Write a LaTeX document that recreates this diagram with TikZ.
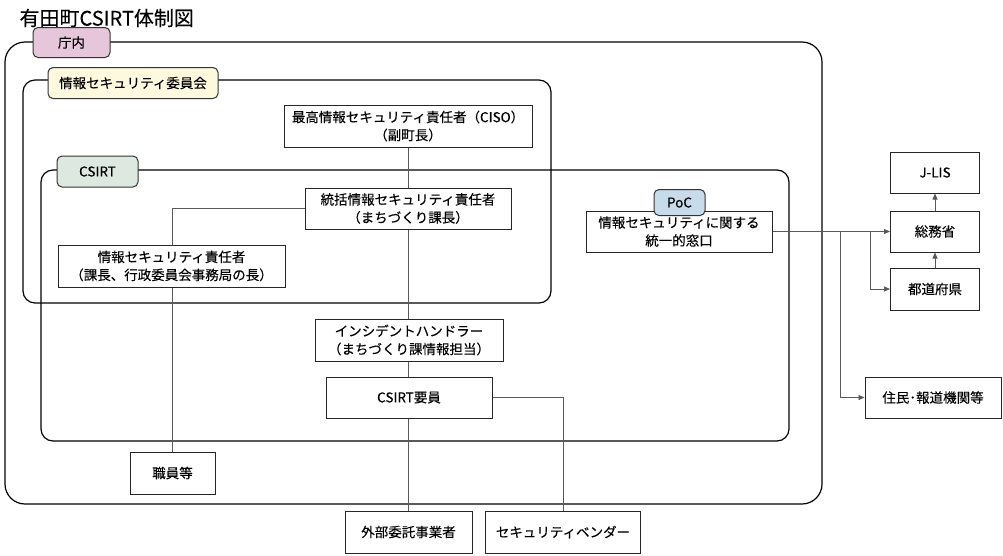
\documentclass[tikz,border=0pt]{standalone}
\usepackage{fontspec}
\setmainfont{Noto Sans CJK JP}[FakeBold=0.15]
\usetikzlibrary{arrows.meta,backgrounds}
\definecolor{tagpink}{HTML}{E6C6DB}
\definecolor{tagcream}{HTML}{FCF9DE}
\definecolor{taggreen}{HTML}{DCE8E0}
\definecolor{tagblue}{HTML}{C8DBEA}
\begin{document}
\begin{tikzpicture}[x=1pt,y=-1pt,
  box/.style={draw=black!85,line width=1pt,fill=white,inner sep=0pt,align=center,
    font=\fontsize{13.5}{18}\selectfont},
  tagbox/.style={draw=black!80,line width=1pt,rounded corners=5pt,inner sep=0pt,align=center,
    font=\fontsize{13.5}{16}\selectfont},
  frame/.style={draw=black,line width=1.2pt},
  conn/.style={draw=black!65,line width=0.8pt},
  arr/.style={conn,-{Triangle[length=6pt,width=5pt]}}]
\useasboundingbox (0,0) rectangle (1003,555);
\node[anchor=west,font=\fontsize{20}{24}\selectfont] (title) at (16,18) {有田町CSIRT体制図};
% boxes
\node[box,minimum width=248pt,minimum height=42pt] (ciso) at (408,126) {最高情報セキュリティ責任者（CISO）\\（副町長）};
\node[box,minimum width=206pt,minimum height=41pt] (tokatsu) at (408,208.5) {統括情報セキュリティ責任者\\（まちづくり課長）};
\node[box,minimum width=227pt,minimum height=42pt] (sekinin) at (171.5,266) {情報セキュリティ責任者\\（課長、行政委員会事務局の長）};
\node[box,minimum width=188pt,minimum height=42pt] (ih) at (409,340) {インシデントハンドラー\\（まちづくり課情報担当）};
\node[box,minimum width=166pt,minimum height=41pt] (csirtm) at (409,397.5) {CSIRT要員};
\node[box,minimum width=85pt,minimum height=42pt] (shokuin) at (172.5,473) {職員等};
\node[box,minimum width=127pt,minimum height=42pt] (gaibu) at (408.5,532) {外部委託事業者};
\node[box,minimum width=155pt,minimum height=42pt] (vendor) at (563,532) {セキュリティベンダー};
\node[box,minimum width=186pt,minimum height=41pt] (poc) at (679,231.5) {情報セキュリティに関する\\統一的窓口};
\node[box,minimum width=89pt,minimum height=41pt] (soumu) at (935,231.5) {総務省};
\node[box,minimum width=89pt,minimum height=42pt] (todo) at (935,289) {都道府県};
\node[box,minimum width=89pt,minimum height=41pt] (jlis) at (935,172.5) {J-LIS};
\node[box,minimum width=136pt,minimum height=41pt] (jumin) at (933,397.5) {住民･報道機関等};
% tags
\node[tagbox,fill=tagpink,minimum width=77pt,minimum height=30pt] (tagcho) at (71.5,42.5) {庁内};
\node[tagbox,fill=tagcream,minimum width=170pt,minimum height=31pt] (tagiin) at (133,83) {情報セキュリティ委員会};
\node[tagbox,fill=taggreen,minimum width=81pt,minimum height=31pt] (tagcsirt) at (97.5,171.5) {CSIRT};
\node[tagbox,fill=tagblue,minimum width=51pt,minimum height=26pt] (tagpoc) at (679.5,202.5) {PoC};
\begin{scope}[on background layer]
  \draw[frame,rounded corners=20pt] (5,42) rectangle (822,504);
  \draw[frame,rounded corners=12pt] (23,80) rectangle (551,303);
  \draw[frame,rounded corners=12pt] (41,170) rectangle (789,441);
  \draw[conn] (ciso.south) -- (ciso.south |- gaibu.north);
  \draw[conn] (tokatsu.west) -| (shokuin.north);
  \draw[conn] (csirtm.east) -| (vendor.north);
  \coordinate (j1) at (840,231.5);
  \coordinate (j2) at (870,231.5);
  \draw[arr] (poc.east) -- (soumu.west);
  \draw[arr] (j2) |- (todo.west);
  \draw[arr] (j1) |- (jumin.west);
  \draw[arr] (soumu.north) -- (jlis.south);
  \draw[arr] (todo.north) -- (soumu.south);
\end{scope}
\end{tikzpicture}
\end{document}
